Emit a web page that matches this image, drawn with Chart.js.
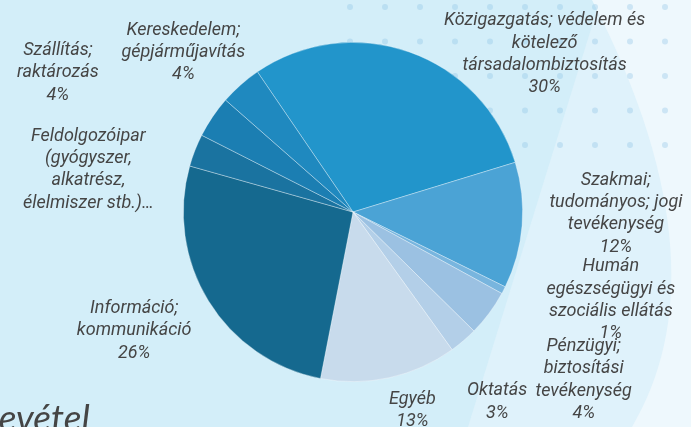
<!DOCTYPE html>
<html>
<head>
<meta charset="utf-8">
<script src="https://cdn.jsdelivr.net/npm/chart.js@4/dist/chart.umd.min.js"></script>
<style>
  html, body { margin: 0; padding: 0; background: #d3eef9; }
  #wrap { width: 691px; height: 427px; position: relative; }
</style>
</head>
<body>
<div id="wrap"><canvas id="pie"></canvas></div>
<script>
// sectors, clockwise from the "Közigazgatás" slice
const categories = [
  ["Közigazgatás; védelem és", "kötelező", "társadalombiztosítás"],
  ["Szakmai;", "tudományos; jogi", "tevékenység"],
  ["Humán", "egészségügyi és", "szociális ellátás"],
  ["Pénzügyi;", "biztosítási", "tevékenység"],
  ["Oktatás"],
  ["Egyéb"],
  ["Információ;", "kommunikáció"],
  ["Feldolgozóipar", "(gyógyszer,", "alkatrész,", "élelmiszer stb.)…"],
  ["Szállítás;", "raktározás"],
  ["Kereskedelem;", "gépjárműjavítás"]
];
const shares = [29.8, 12.0, 0.7, 4.4, 2.7, 13.0, 26.3, 3.1, 4.0, 4.0];
// the Feldolgozóipar label is cut off in the original, no percent shown
const showPercent = [true, true, true, true, true, true, true, false, true, true];

const sliceColors = [
  "#2295cb", "#4ba3d5", "#78b5de", "#9bc1e2", "#b3cfe8",
  "#c8dbec", "#15698f", "#1a73a0", "#1b7eb2", "#1f89bf"
];

// label block centres, in pie radii from the pie centre
const labelPlace = [
  [1.13, -0.93], [1.55, 0.01], [1.52, 0.52], [1.36, 0.99], [0.85, 1.12],
  [0.35, 1.17], [-1.29, 0.70], [-1.56, -0.25], [-1.74, -0.82], [-1.0, -0.94]
];

// slide backdrop: bands, dot grid and the cut-off heading
const backdrop = {
  id: "backdrop",
  beforeDraw(chart) {
    const c = chart.ctx;
    const W = chart.width, H = chart.height;
    c.save();
    c.fillStyle = "#d3eef9";
    c.fillRect(0, 0, W, H);
    c.fillStyle = "#dff2fb";
    c.beginPath();
    c.moveTo(600, 0); c.lineTo(W, 0); c.lineTo(W, H); c.lineTo(468, H);
    c.closePath(); c.fill();
    c.fillStyle = "#eef8fd";
    c.beginPath();
    c.moveTo(592, 0); c.lineTo(W, 0); c.lineTo(W, H); c.lineTo(632, H);
    c.bezierCurveTo(690, 330, 690, 190, 592, 0);
    c.closePath(); c.fill();
    c.fillStyle = "rgba(140,195,230,0.35)";
    for (let y = 7; y < 150; y += 34.5) {
      for (let x = 350; x < 680; x += 35) {
        c.beginPath(); c.arc(x, y, 3, 0, Math.PI * 2); c.fill();
      }
    }
    c.fillStyle = "#454545";
    c.font = "italic 37px Lato";
    c.textBaseline = "alphabetic";
    c.textAlign = "left";
    const lead = c.measureText("B").width;
    c.fillText("Bevétel", -lead - 1, 431);
    c.restore();
  }
};

const sliceLabels = {
  id: "sliceLabels",
  afterDraw(chart) {
    const arc = chart.getDatasetMeta(0).data[0];
    const cx = arc.x, cy = arc.y, r = arc.outerRadius;
    const c = chart.ctx;
    const lh = 22.3;
    c.save();
    c.font = "italic 18px Roboto";
    c.fillStyle = "#454545";
    c.textAlign = "center";
    c.textBaseline = "middle";
    categories.forEach((lines, i) => {
      const all = showPercent[i] ? lines.concat([Math.round(shares[i]) + "%"]) : lines;
      const mx = cx + labelPlace[i][0] * r;
      const my = cy + labelPlace[i][1] * r;
      const top = my - (all.length - 1) * lh / 2;
      all.forEach((t, k) => c.fillText(t, mx, top + k * lh));
    });
    c.restore();
  }
};

new Chart(document.getElementById("pie").getContext("2d"), {
  type: "pie",
  data: {
    labels: categories.map(l => l.join(" ")),
    datasets: [{
      data: shares,
      backgroundColor: sliceColors,
      borderColor: "rgba(255,255,255,0.45)",
      borderWidth: 0.75
    }]
  },
  options: {
    responsive: true,
    maintainAspectRatio: false,
    animation: false,
    rotation: -34.3,
    layout: { padding: { top: 42, bottom: 45, left: 15, right: 0 } },
    plugins: {
      legend: { display: false },
      tooltip: { enabled: false }
    }
  },
  plugins: [backdrop, sliceLabels]
});
</script>
</body>
</html>
